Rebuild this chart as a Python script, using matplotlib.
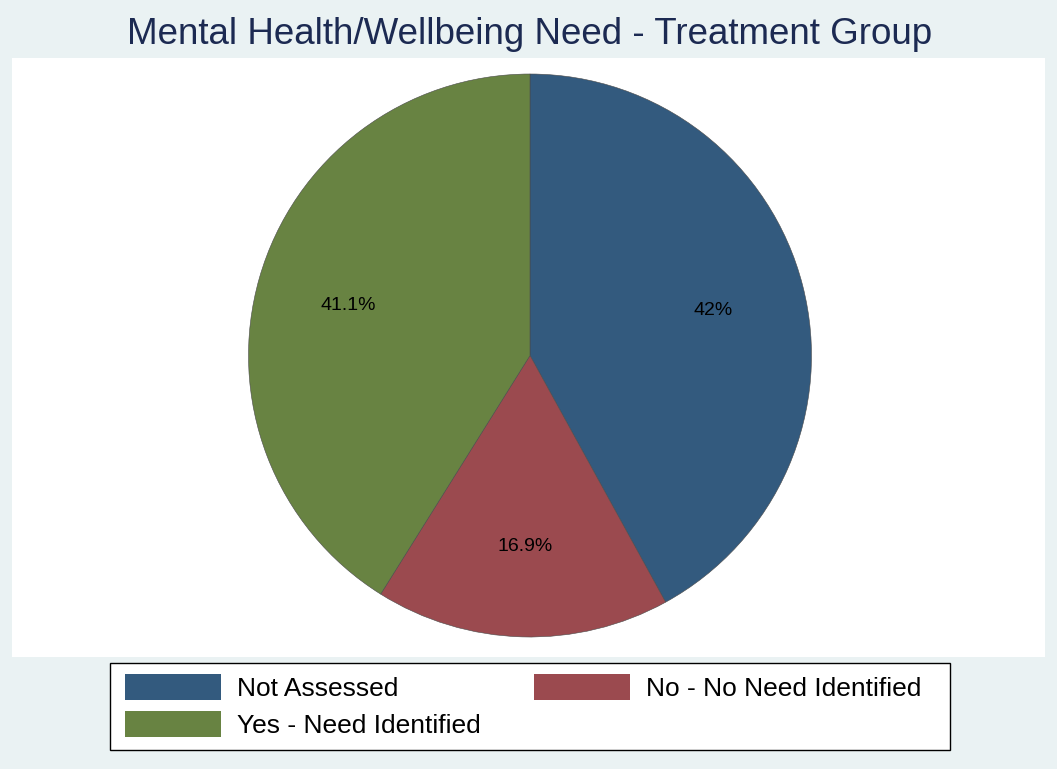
import matplotlib.pyplot as plt
from matplotlib.patches import Rectangle, Patch

plt.rcParams['font.family'] = ['Liberation Sans', 'DejaVu Sans']

categories = ['Not Assessed', 'No - No Need Identified', 'Yes - Need Identified']
shares = [42.0, 16.9, 41.1]
colors = ['#335A7E', '#9B4A4F', '#688342']
title = 'Mental Health/Wellbeing Need - Treatment Group'

W, H = 1057, 769
fig = plt.figure(figsize=(W / 100, H / 100), dpi=100)
fig.patch.set_facecolor('#EAF2F3')

# white plot region
fig.patches.append(Rectangle((12 / W, 1 - 657 / H), 1033 / W, 599 / H,
                             transform=fig.transFigure, facecolor='white',
                             edgecolor='none', zorder=-1))
# legend box
fig.patches.append(Rectangle((110 / W, 1 - 750 / H), 840 / W, 87 / H,
                             transform=fig.transFigure, facecolor='white',
                             edgecolor='black', linewidth=1.0, zorder=-1))

fig.text(530 / W, 1 - 34 / H, title, ha='center', va='center',
         fontsize=26.5, color='#1C2A52')

# pie axes: centre (530, 355), radius 281 px
r = 281.5
ax = fig.add_axes([(530 - r) / W, (H - 355.5 - r) / H, 2 * r / W, 2 * r / H])
ax.axis('off')

wedges, texts = ax.pie(shares, colors=colors, startangle=90, counterclock=False,
                       radius=1, wedgeprops=dict(linewidth=0.4, edgecolor='#4a4a4a'),
                       labels=['%g%%' % s for s in shares], labeldistance=0.67,
                       textprops=dict(fontsize=14, color='black'))
for t in texts:
    t.set_ha('center')
    t.set_va('center_baseline')
ax.set_xlim(-1, 1)
ax.set_ylim(-1, 1)
ax.set_aspect('equal')

# legend laid out row-wise: reorder for column-major filling
order = [0, 2, 1]
handles = [Patch(facecolor=colors[i], edgecolor='none') for i in order]
labels = [categories[i] for i in order]
leg = fig.legend(handles, labels, ncol=2, loc='upper left',
                 bbox_to_anchor=(125 / W, 1 - 674 / H),
                 fontsize=19, frameon=False,
                 handlelength=3.65, handleheight=1.15, handletextpad=0.6,
                 borderaxespad=0, borderpad=0, labelspacing=0.38, columnspacing=2.0)

fig.savefig('out.png', dpi=100, facecolor=fig.get_facecolor())
